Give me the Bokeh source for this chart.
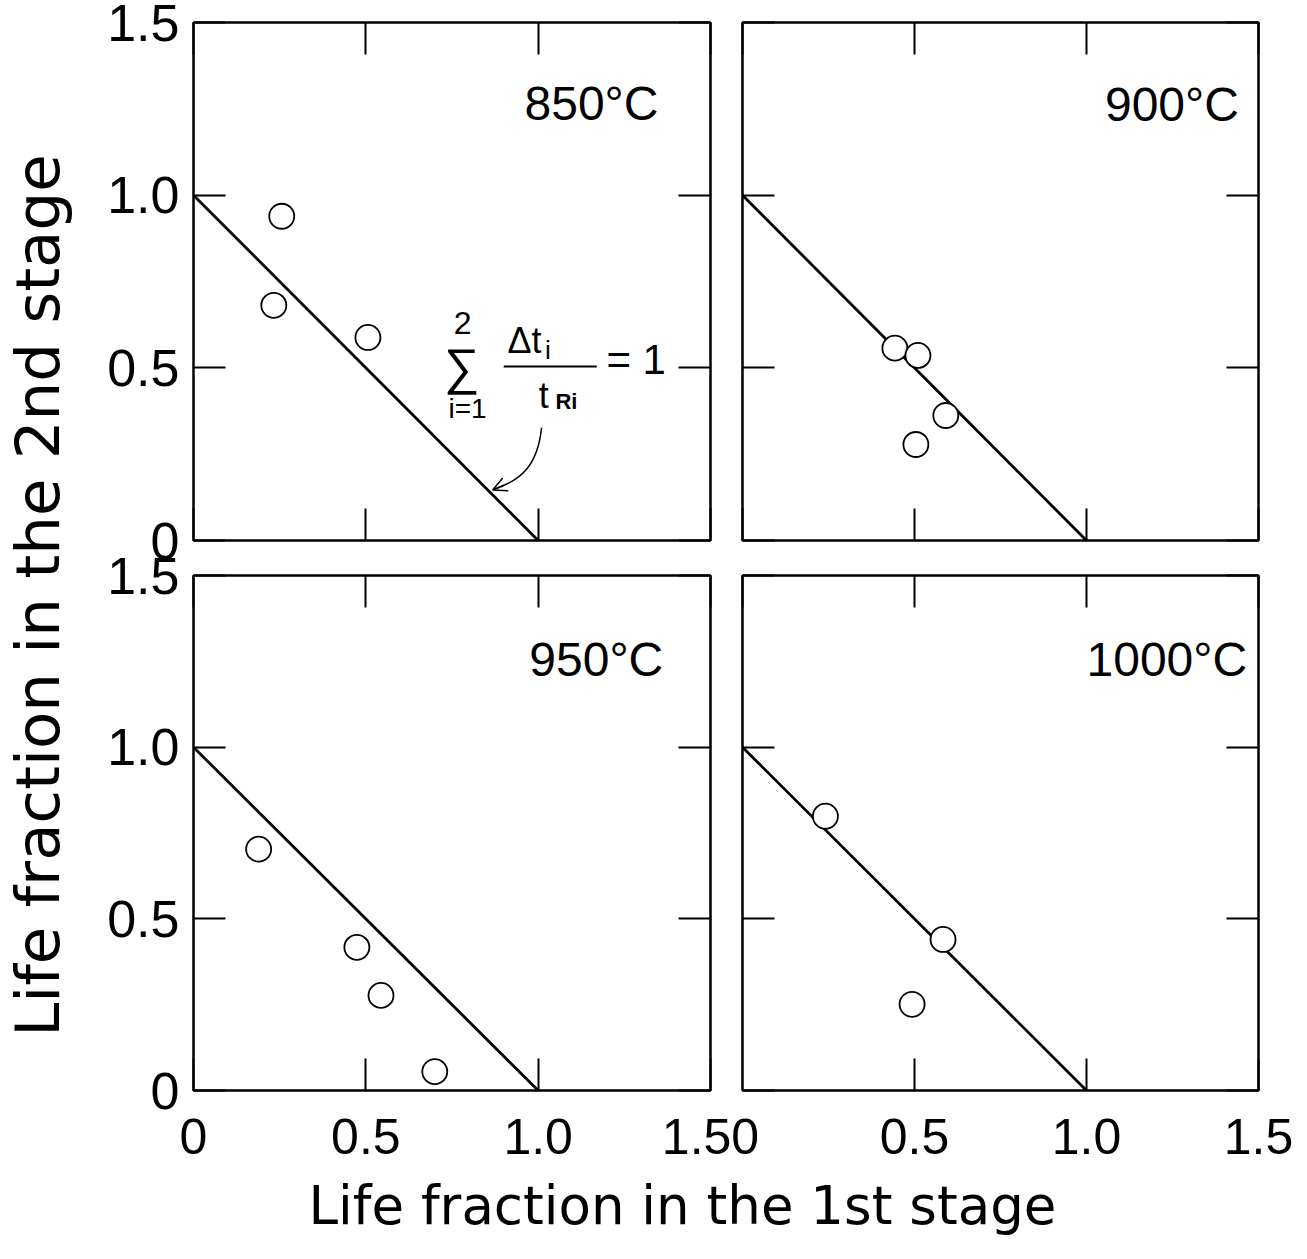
from bokeh.plotting import figure
from bokeh.models import (Range1d, LinearAxis, FixedTicker, Label, Arrow, OpenHead,
                          CustomLabelingPolicy, AllLabels)
from bokeh.layouts import row, column
from bokeh.embed import file_html
from bokeh.resources import INLINE
import math

# ---------------- data ----------------
TICK_VALUES = [0, 0.5, 1.0, 1.5]
TICK_LABELS = ["0", "0.5", "1.0", "1.5"]
# in the reference the left panel's "1.5" and the right panel's "0" run together as "1.50"
JOINED_LABEL = "1.50"

LINE_X = [0.0, 1.0]
LINE_Y = [1.0, 0.0]

T850_X = [0.256, 0.233, 0.506]
T850_Y = [0.939, 0.681, 0.588]

T900_X = [0.443, 0.510, 0.591, 0.504]
T900_Y = [0.557, 0.536, 0.362, 0.278]

T950_X = [0.189, 0.474, 0.544, 0.700]
T950_Y = [0.703, 0.417, 0.277, 0.055]

T1000_X = [0.241, 0.583, 0.493]
T1000_Y = [0.799, 0.440, 0.251]

TEMP_LABELS = ["850°C", "900°C", "950°C", "1000°C"]
X_TITLE = "Life fraction in the 1st stage"
Y_TITLE = "Life fraction in the 2nd stage"

FONT = "Liberation Sans"
TITLE_FONT = "DejaVu Sans"
OVERRIDES = {v: s for v, s in zip(TICK_VALUES, TICK_LABELS)}


def style_axis(ax, show_labels, standoff, overrides=None, size="52px", ticks=None):
    ax.ticker = FixedTicker(ticks=ticks if ticks is not None else TICK_VALUES)
    ax.major_tick_in = 32
    ax.major_tick_out = 0
    ax.minor_tick_in = 0
    ax.minor_tick_out = 0
    ax.major_tick_line_width = 2
    ax.major_tick_line_color = "black"
    ax.axis_line_width = 2
    ax.axis_line_color = "black"
    if show_labels:
        ax.major_label_policy = AllLabels()
        ax.major_label_overrides = overrides if overrides is not None else OVERRIDES
        ax.major_label_text_font = FONT
        ax.major_label_text_font_size = size
        ax.major_label_text_color = "black"
        ax.major_label_standoff = standoff
    else:
        ax.major_label_text_font_size = "1px"
        ax.major_label_standoff = 0
        ax.major_label_policy = CustomLabelingPolicy(code="return []")


def panel(width, height, bl, br, bt, bb, show_x, show_y, x_over=None, x_ticks=None,
          margin=None):
    p = figure(width=width, height=height,
               x_range=Range1d(0, 1.5), y_range=Range1d(0, 1.5),
               output_backend="svg", toolbar_location=None,
               min_border_left=bl, min_border_right=br,
               min_border_top=bt, min_border_bottom=bb)
    if margin is not None:
        p.margin = margin
    p.xgrid.visible = False
    p.ygrid.visible = False
    p.outline_line_color = "black"
    p.outline_line_width = 2
    p.background_fill_color = "white"
    p.border_fill_color = None
    style_axis(p.xaxis[0], show_x, 28, overrides=x_over, size="50px", ticks=x_ticks)
    style_axis(p.yaxis[0], show_y, 14)
    top = LinearAxis()
    right = LinearAxis()
    style_axis(top, False, 0)
    style_axis(right, False, 0)
    p.add_layout(top, "above")
    p.add_layout(right, "right")
    return p


def draw(p, xs, ys):
    p.line(LINE_X, LINE_Y, line_color="black", line_width=2.8)
    p.scatter(xs, ys, marker="circle", size=25, fill_color="white",
              line_color="black", line_width=1.8)


def temp_label(p, x, y, text):
    p.add_layout(Label(x=x, y=y, text=text, text_align="right",
                       text_baseline="middle", text_font=FONT,
                       text_font_size="48px", text_color="black"))


bl_over = dict(OVERRIDES)
bl_over[1.5] = JOINED_LABEL

# left column: canvas x 80..760 ; right column frame starts at 742
tl = panel(680, 575, 113, 50, 22, 35, False, True)
tr = panel(615, 575, 50, 49, 22, 35, False, False, margin=(0, 0, 0, -68))
bl = panel(680, 630, 113, 50, 35, 80, True, True, x_over=bl_over)
br = panel(615, 630, 50, 49, 35, 80, True, False, x_ticks=TICK_VALUES[1:],
           margin=(0, 0, 0, -68))

draw(tl, T850_X, T850_Y)
draw(tr, T900_X, T900_Y)
draw(bl, T950_X, T950_Y)
draw(br, T1000_X, T1000_Y)

temp_label(tl, 1.349, 1.265, TEMP_LABELS[0])
temp_label(tr, 1.443, 1.262, TEMP_LABELS[1])
temp_label(bl, 1.363, 1.254, TEMP_LABELS[2])
temp_label(br, 1.467, 1.254, TEMP_LABELS[3])

# ---- formula annotation in the 850 °C panel ----
def lab(p, x, y, text, size, align="center", base="middle", style="normal"):
    p.add_layout(Label(x=x, y=y, text=text, text_align=align,
                       text_baseline=base, text_font=FONT,
                       text_font_size=size, text_font_style=style,
                       text_color="black"))

lab(tl, 0.778, 0.503, "∑", "50px")
lab(tl, 0.781, 0.630, "2", "32px")
lab(tl, 0.795, 0.383, "i=1", "28px")
lab(tl, 0.911, 0.579, "Δt", "36px", align="left")
lab(tl, 1.028, 0.552, "i", "26px")
lab(tl, 1.016, 0.420, "t", "36px")
lab(tl, 1.050, 0.402, "Ri", "22px", align="left", style="bold")
lab(tl, 1.198, 0.525, "= 1", "42px", align="left")
tl.line([0.900, 1.170], [0.504, 0.504], line_color="black", line_width=2)
tl.bezier(x0=[1.010], y0=[0.327], x1=[0.872], y1=[0.148],
          cx0=[0.998], cy0=[0.215], cx1=[0.950], cy1=[0.175],
          line_color="black", line_width=1.5)
tl.add_layout(Arrow(end=OpenHead(size=14, line_width=1.5, line_color="black"),
                    x_start=0.900, y_start=0.160, x_end=0.868, y_end=0.146,
                    line_width=1.5, line_color="black"))

# ---- axis titles ----
ylab = figure(width=80, height=1259, x_range=Range1d(0, 80), y_range=Range1d(0, 1259),
              output_backend="svg", toolbar_location=None,
              min_border=0, outline_line_color=None)
ylab.axis.visible = False
ylab.grid.visible = False
ylab.add_layout(Label(x=37, y=1259 - 595, text=Y_TITLE, angle=math.pi / 2,
                      text_align="center", text_baseline="middle",
                      text_font=TITLE_FONT, text_font_size="61px", text_color="black"))

xlab = figure(width=1227, height=89, x_range=Range1d(0, 1227), y_range=Range1d(0, 89),
              output_backend="svg", toolbar_location=None,
              min_border=0, outline_line_color=None)
xlab.axis.visible = False
xlab.grid.visible = False
xlab.add_layout(Label(x=682 - 80, y=89 - 35, text=X_TITLE,
                      text_align="center", text_baseline="middle",
                      text_font=TITLE_FONT, text_font_size="53px", text_color="black"))

top_row = row(tl, tr)
bottom_row = row(bl, br, margin=(-35, 0, 0, 0))
layout = row(ylab, column(top_row, bottom_row, xlab))

with open("out.html", "w") as f:
    f.write(file_html(layout, INLINE))
